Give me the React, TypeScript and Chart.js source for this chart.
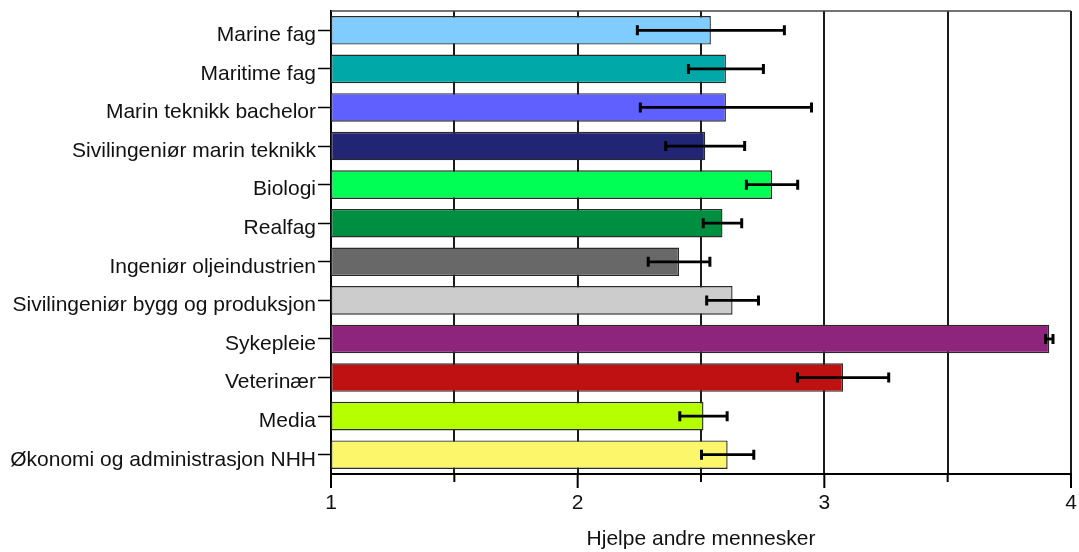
import React, { useEffect, useRef } from 'react';
import { Chart, registerables } from 'chart.js';

Chart.register(...registerables);

const categories = [
  'Marine fag',
  'Maritime fag',
  'Marin teknikk bachelor',
  'Sivilingeniør marin teknikk',
  'Biologi',
  'Realfag',
  'Ingeniør oljeindustrien',
  'Sivilingeniør bygg og produksjon',
  'Sykepleie',
  'Veterinær',
  'Media',
  'Økonomi og administrasjon NHH',
];

const means = [2.54, 2.601, 2.601, 2.517, 2.788, 2.587, 2.411, 2.628, 3.912, 3.076, 2.51, 2.608];
const errors = [0.298, 0.152, 0.347, 0.16, 0.104, 0.078, 0.125, 0.105, 0.015, 0.185, 0.096, 0.106];

const barColors = [
  '#80CCFF',
  '#00A8A8',
  '#5F60FF',
  '#212574',
  '#00FF55',
  '#008E40',
  '#686868',
  '#CCCCCC',
  '#8F247D',
  '#BF1012',
  '#B5FF00',
  '#FCF76A',
];

const axisMin = 1;
const axisMax = 4;
const axisStep = 0.5;
const xTickLabels = ['1', '2', '3', '4'];
const xTitle = 'Hjelpe andre mennesker';

const FONT = '"Liberation Sans", Arial, sans-serif';

const errorBarPlugin = {
  id: 'errorBars',
  afterDatasetsDraw(chart: any) {
    const meta = chart.getDatasetMeta(0);
    const xs = chart.scales.x;
    const ctx = chart.ctx;
    ctx.save();
    ctx.strokeStyle = '#000';
    meta.data.forEach((bar: any, i: number) => {
      const lo = xs.getPixelForValue(means[i] - errors[i]);
      const hi = xs.getPixelForValue(means[i] + errors[i]);
      const y = bar.y;
      ctx.lineWidth = 2.8;
      ctx.beginPath();
      ctx.moveTo(lo, y);
      ctx.lineTo(hi, y);
      ctx.stroke();
      ctx.lineWidth = 3;
      ctx.beginPath();
      ctx.moveTo(lo, y - 5);
      ctx.lineTo(lo, y + 5);
      ctx.moveTo(hi, y - 5);
      ctx.lineTo(hi, y + 5);
      ctx.stroke();
    });
    ctx.restore();
  },
};

const framePlugin = {
  id: 'frameTop',
  afterDraw(chart: any) {
    const { ctx, chartArea } = chart;
    const xs = chart.scales.x;
    ctx.save();
    ctx.strokeStyle = '#444';
    ctx.lineWidth = 1.5;
    ctx.beginPath();
    ctx.moveTo(chartArea.left, chartArea.top);
    ctx.lineTo(chartArea.right, chartArea.top);
    ctx.stroke();
    // x-axis tick marks: long at integers, short at halves
    ctx.strokeStyle = '#000';
    ctx.lineWidth = 2;
    ctx.beginPath();
    xs.ticks.forEach((t: any) => {
      const px = xs.getPixelForValue(t.value);
      const len = Number.isInteger(t.value) ? 14 : 8;
      ctx.moveTo(px, chartArea.bottom);
      ctx.lineTo(px, chartArea.bottom + len);
    });
    ctx.stroke();
    ctx.restore();
  },
};

export default function App() {
  const canvasRef = useRef<HTMLCanvasElement | null>(null);

  useEffect(() => {
    const canvas = canvasRef.current;
    if (!canvas) return;
    const chart = new Chart(canvas, {
      type: 'bar',
      data: {
        labels: categories,
        datasets: [
          {
            data: means.map((m) => [axisMin, m]) as any,
            backgroundColor: barColors,
            borderColor: '#2a2a2a',
            borderWidth: 1.4,
            borderSkipped: false,
            categoryPercentage: 1,
            barPercentage: 0.74,
          },
        ],
      },
      options: {
        indexAxis: 'y',
        animation: false,
        responsive: false,
        devicePixelRatio: 1,
        layout: { padding: { top: 11, right: 8, left: 0, bottom: 0 } },
        plugins: {
          legend: { display: false },
          tooltip: { enabled: false },
        },
        scales: {
          x: {
            type: 'linear',
            min: axisMin,
            max: axisMax,
            afterFit: (scale: any) => {
              scale.height = 78;
              scale.paddingLeft = 0;
              scale.paddingRight = 0;
            },
            ticks: {
              stepSize: axisStep,
              autoSkip: false,
              maxRotation: 0,
              padding: 17,
              color: '#111',
              font: { family: FONT, size: 21 },
              callback: (v: any) => {
                const n = Number(v);
                if (Number.isInteger(n)) {
                  const idx = n - axisMin;
                  return xTickLabels[idx] ?? '';
                }
                return '';
              },
            },
            grid: {
              color: '#1a1a1a',
              lineWidth: 2,
              drawTicks: false,
            },
            border: { color: '#000', width: 2 },
            title: {
              display: true,
              text: xTitle,
              color: '#111',
              font: { family: FONT, size: 21 },
              padding: 0,
            },
          },
          y: {
            type: 'category',
            offset: true,
            afterFit: (scale: any) => {
              scale.width = 331;
              scale.paddingTop = 0;
              scale.paddingBottom = 0;
            },
            ticks: {
              autoSkip: false,
              padding: 2,
              labelOffset: 5,
              color: '#111',
              font: { family: FONT, size: 21 },
            },
            grid: {
              offset: false,
              drawOnChartArea: false,
              tickLength: 13,
              tickColor: '#000',
              tickWidth: 1.5,
            },
            border: { color: '#000', width: 2 },
          },
        },
      },
      plugins: [errorBarPlugin, framePlugin],
    });
    return () => chart.destroy();
  }, []);

  return (
    <div style={{ position: 'absolute', left: 0, top: 0, width: 1079, height: 552, background: '#fff' }}>
      <canvas ref={canvasRef} width={1079} height={552} style={{ display: 'block' }} />
    </div>
  );
}
